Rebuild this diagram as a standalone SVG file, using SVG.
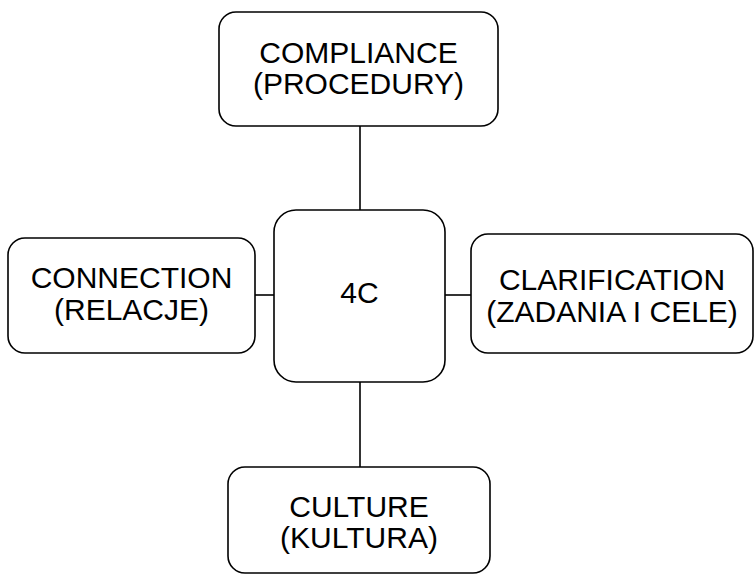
<svg xmlns="http://www.w3.org/2000/svg" width="755" height="576" viewBox="0 0 755 576">
<style>
.box{fill:#fff;stroke:#000;stroke-width:1.6}
.lbl{font-family:"Liberation Sans",Arial,Helvetica,sans-serif;font-size:30px;fill:#000;text-anchor:middle}
.con{stroke:#000;stroke-width:1.6;fill:none}
</style>
<rect width="755" height="576" fill="#fff"/>
<g id="connectors">
<line class="con" x1="360" y1="126" x2="360" y2="210"/>
<line class="con" x1="360" y1="382" x2="360" y2="467"/>
<line class="con" x1="255" y1="295" x2="274" y2="295"/>
<line class="con" x1="445" y1="295" x2="471" y2="295"/>
</g>
<g id="compliance">
<rect class="box" x="219" y="12" width="279" height="114" rx="17"/>
<text class="lbl" x="358.5" y="63">COMPLIANCE</text>
<text class="lbl" x="358.5" y="94">(PROCEDURY)</text>
</g>
<g id="connection">
<rect class="box" x="8" y="238" width="247" height="115" rx="17"/>
<text class="lbl" x="131.5" y="288">CONNECTION</text>
<text class="lbl" x="131.5" y="320">(RELACJE)</text>
</g>
<g id="center">
<rect class="box" x="274" y="210" width="171" height="172" rx="22"/>
<text class="lbl" x="359.5" y="303">4C</text>
</g>
<g id="clarification">
<rect class="box" x="471" y="234" width="282" height="119" rx="17"/>
<text class="lbl" x="612" y="290">CLARIFICATION</text>
<text class="lbl" x="612" y="322">(ZADANIA I CELE)</text>
</g>
<g id="culture">
<rect class="box" x="228" y="467" width="262" height="106" rx="17"/>
<text class="lbl" x="359" y="517">CULTURE</text>
<text class="lbl" x="359" y="548">(KULTURA)</text>
</g>
</svg>
